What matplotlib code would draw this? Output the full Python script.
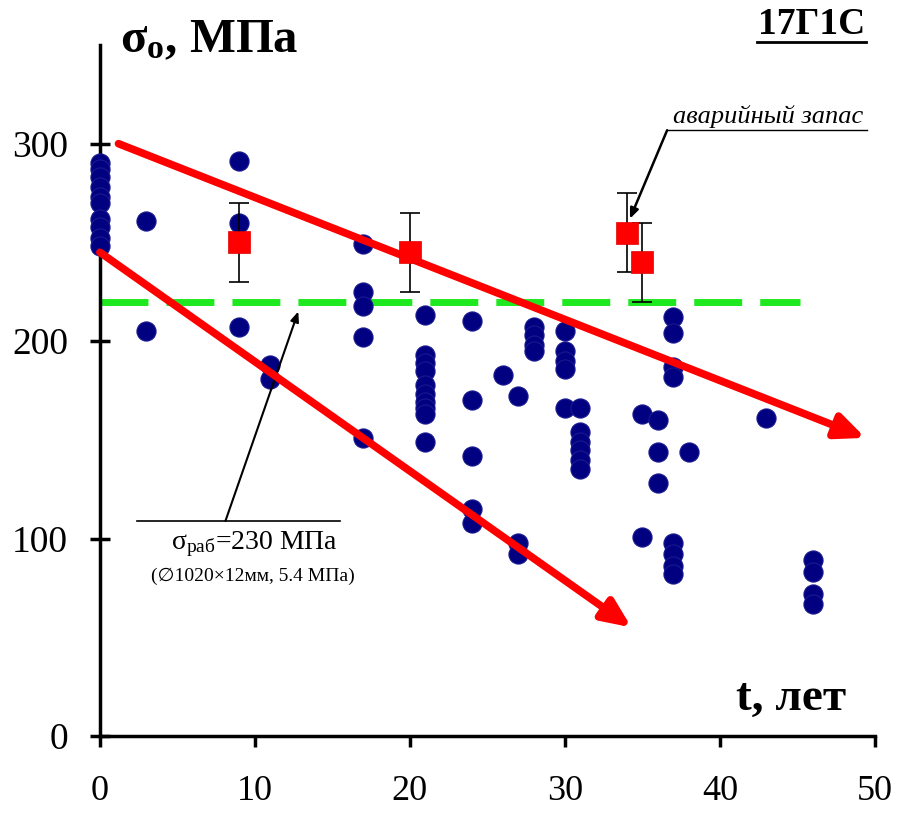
import matplotlib
matplotlib.use("Agg")
from matplotlib import pyplot as plt
from matplotlib.lines import Line2D

plt.rcParams['font.family'] = ['Liberation Serif', 'DejaVu Serif']
plt.rcParams['mathtext.fontset'] = 'custom'
plt.rcParams['mathtext.rm'] = 'Liberation Serif'
plt.rcParams['mathtext.it'] = 'Liberation Serif:italic'
plt.rcParams['mathtext.bf'] = 'Liberation Serif:bold'

# измерения (годы эксплуатации, напряжение МПа)
t_obs = [0, 0, 0, 0, 0, 0, 0, 0, 0, 0,
         3, 3,
         9, 9, 9,
         11, 11,
         17, 17, 17, 17, 17,
         21, 21, 21, 21, 21, 21, 21, 21, 21, 21,
         24, 24, 24, 24, 24,
         26,
         27, 27, 27,
         28, 28, 28, 28,
         30, 30, 30, 30, 30,
         31, 31, 31, 31, 31, 31,
         35, 35,
         36, 36, 36,
         37, 37, 37, 37, 37, 37, 37, 37,
         38,
         43,
         46, 46, 46, 46]
sigma_obs = [290, 287, 283, 278, 273, 270, 262, 258, 252, 248,
             261, 205,
             291, 260, 207,
             188, 181,
             249, 225, 218, 202, 151,
             213, 193, 189, 185, 178, 173, 169, 166, 163, 149,
             210, 170, 142, 115, 108,
             183,
             172, 98, 92,
             207, 203, 198, 195,
             205, 195, 190, 186, 166,
             166, 154, 149, 145, 140, 135,
             163, 101,
             160, 144, 128,
             212, 204, 187, 182, 98, 92, 86, 82,
             144,
             161,
             89, 83, 72, 67]

# средние значения с разбросом
t_mean = [9, 20, 34, 35]
sigma_mean = [250, 245, 255, 240]
sigma_err = [20, 20, 20, 20]

# рабочее напряжение (пунктир)
t_work = [0, 45.2]
sigma_work = [220, 220]

# линии тренда (начало -> конец стрелки)
trend_upper = [(1.2, 300), (49.4, 151)]
trend_lower = [(0, 245), (34.3, 55)]

fig = plt.figure(figsize=(9, 8.13), dpi=100)
ax = fig.add_axes([0.111, 0.0947, 0.861, 0.850])

ax.plot(t_work, sigma_work, color='#1ee81e', lw=5, dashes=(6.9, 2.6), zorder=2)

ax.scatter(t_obs, sigma_obs, s=190, color='#000080', edgecolors='#1a1a90',
           linewidths=0.8, zorder=3, clip_on=False)

for (x0, y0), (x1, y1) in (trend_upper, trend_lower):
    ax.annotate('', xy=(x1, y1), xytext=(x0, y0),
                arrowprops=dict(arrowstyle='-|>,head_length=1.7,head_width=0.75',
                                color='#ff0000', lw=5.5, shrinkA=0, shrinkB=0),
                zorder=4)

ax.errorbar(t_mean, sigma_mean, yerr=sigma_err, fmt='none', ecolor='black',
            elinewidth=1.2, capsize=7, capthick=1.2, zorder=5)
ax.scatter(t_mean, sigma_mean, s=260, marker='s', color='#ff0000',
           edgecolors='#e00000', linewidths=0.5, zorder=6)

ax.set_xlim(0, 50)
ax.set_ylim(0, 350)
ax.set_xticks([0, 10, 20, 30, 40, 50])
ax.set_yticks([0, 100, 200, 300])
for s in ('top', 'right'):
    ax.spines[s].set_visible(False)
for s in ('left', 'bottom'):
    ax.spines[s].set_linewidth(2.5)
ax.tick_params(axis='y', direction='inout', length=14, width=2.5, labelsize=27, pad=16)
ax.tick_params(axis='x', direction='out', length=8, width=2.5, labelsize=26, pad=20)

# подписи осей
fig.text(0.133, 0.951, r'$\mathbf{σ_o}$, МПа', fontsize=35, fontweight='bold',
         ha='left', va='center')
ax.text(44.6, 19, 't, лет', fontsize=34, fontweight='bold', ha='center', va='center')

# марка стали
fig.text(0.902, 0.970, '17Г1С', fontsize=27, fontweight='bold', ha='center', va='center')
fig.add_artist(Line2D([0.841, 0.962], [0.948, 0.948], color='black', lw=2))

# аварийный запас
ax.text(43.1, 307.8, 'аварийный запас', fontsize=19, style='italic',
        ha='center', va='bottom')
ax.plot([36.6, 49.5], [306.8, 306.8], color='black', lw=1, clip_on=False)
ax.annotate('', xy=(34.2, 262), xytext=(36.6, 306.8),
            arrowprops=dict(arrowstyle='-|>,head_length=0.6,head_width=0.25',
                            color='black', lw=1.8, shrinkA=0, shrinkB=0))

# рабочее напряжение
ax.plot([2.4, 15.5], [108.9, 108.9], color='black', lw=1.2)
ax.annotate('', xy=(12.8, 215), xytext=(8.1, 108.9),
            arrowprops=dict(arrowstyle='-|>,head_length=0.6,head_width=0.25',
                            color='black', lw=1.5, shrinkA=0, shrinkB=0))
ax.text(10.0, 97, r'$\mathrm{σ}_{\mathrm{раб}}$=230 МПа', fontsize=20,
        ha='center', va='center')
ax.text(9.9, 81, '(∅1020×12мм, 5.4 МПа)', fontsize=14,
        ha='center', va='center', family=['Liberation Serif', 'DejaVu Sans'])

fig.savefig('out.png', dpi=100)
